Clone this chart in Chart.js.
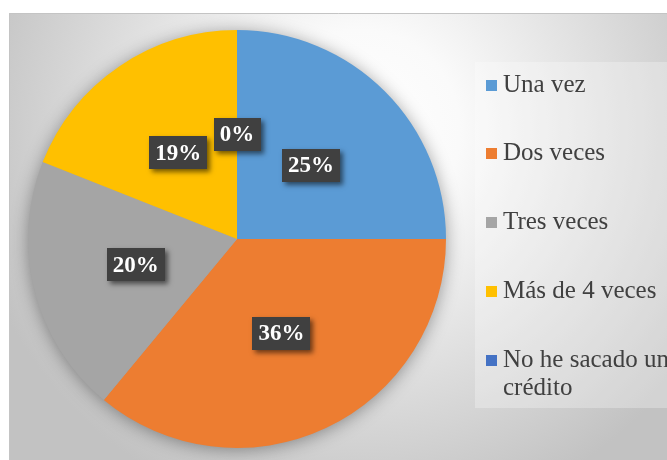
<!DOCTYPE html>
<html>
<head>
<meta charset="utf-8">
<script src="https://cdn.jsdelivr.net/npm/chart.js@4/dist/chart.umd.min.js"></script>
<style>
  html, body { margin: 0; padding: 0; background: #ffffff; }
  canvas { display: block; }
</style>
</head>
<body>
<canvas id="chart" width="667" height="460"></canvas>
<script>
// Number of credits taken
const categories = ['Una vez', 'Dos veces', 'Tres veces', 'Más de 4 veces', 'No he sacado un crédito'];
const percentages = [25, 36, 20, 19, 0];
const sliceColors = ['#5B9BD5', '#ED7D31', '#A5A5A5', '#FFC000', '#4472C4'];
// Legend entries split into display lines
const legendLines = [['Una vez'], ['Dos veces'], ['Tres veces'], ['Más de 4 veces'], ['No he sacado un', 'crédito']];

const serif = '"Liberation Serif", "Times New Roman", serif';

// Framed panel with a soft radial light behind the chart
const panelBackground = {
  id: 'panelBackground',
  beforeDraw(chart) {
    const ctx = chart.ctx;
    const W = chart.width, H = chart.height;
    ctx.save();
    ctx.fillStyle = '#ffffff';
    ctx.fillRect(0, 0, W, H);
    const g = ctx.createRadialGradient(360, 130, 0, 360, 130, 400);
    g.addColorStop(0, '#ffffff');
    g.addColorStop(0.25, '#fafafa');
    g.addColorStop(0.6, '#e0e0e0');
    g.addColorStop(1, '#c2c2c2');
    ctx.fillStyle = g;
    ctx.fillRect(9, 13, W - 9, H - 13);
    ctx.strokeStyle = '#c4c4c4';
    ctx.lineWidth = 1;
    ctx.beginPath();
    ctx.moveTo(9.5, H);
    ctx.lineTo(9.5, 13.5);
    ctx.lineTo(W, 13.5);
    ctx.stroke();
    // lighter legend panel
    ctx.fillStyle = 'rgba(255,255,255,0.28)';
    ctx.fillRect(475, 62, W - 475, 346);
    ctx.restore();
  },
  beforeDatasetsDraw(chart) {
    // soft shadow under the pie
    const arc = chart.getDatasetMeta(0).data[0];
    if (!arc) return;
    const ctx = chart.ctx;
    ctx.save();
    ctx.shadowColor = 'rgba(0,0,0,0.4)';
    ctx.shadowBlur = 18;
    ctx.shadowOffsetX = 0;
    ctx.shadowOffsetY = 2;
    ctx.fillStyle = '#a0a0a0';
    ctx.beginPath();
    ctx.arc(arc.x, arc.y, arc.outerRadius - 1, 0, Math.PI * 2);
    ctx.fill();
    ctx.restore();
  }
};

// Dark boxed percentage labels at each slice's centroid
const boxedLabels = {
  id: 'boxedLabels',
  afterDatasetsDraw(chart) {
    const ctx = chart.ctx;
    const meta = chart.getDatasetMeta(0);
    const values = chart.data.datasets[0].data;
    ctx.save();
    ctx.font = 'bold 23px ' + serif;
    ctx.textAlign = 'center';
    ctx.textBaseline = 'middle';
    meta.data.forEach((arc, i) => {
      const pos = arc.tooltipPosition();
      const text = values[i] + '%';
      const w = ctx.measureText(text).width + 12;
      const h = 33;
      ctx.save();
      ctx.shadowColor = 'rgba(0,0,0,0.55)';
      ctx.shadowBlur = 5;
      ctx.shadowOffsetX = 3;
      ctx.shadowOffsetY = 3;
      ctx.fillStyle = '#404040';
      ctx.fillRect(Math.round(pos.x - w / 2), Math.round(pos.y - h / 2), Math.round(w), h);
      ctx.restore();
      ctx.fillStyle = '#ffffff';
      ctx.fillText(text, pos.x, pos.y + 1);
    });
    ctx.restore();
  }
};

// Right-hand legend with square swatches
const sideLegend = {
  id: 'sideLegend',
  afterDraw(chart) {
    const ctx = chart.ctx;
    const colors = chart.data.datasets[0].backgroundColor;
    const rowCenters = [85, 153, 222, 291, 360];
    ctx.save();
    ctx.font = '25px ' + serif;
    ctx.textAlign = 'left';
    ctx.textBaseline = 'middle';
    chart.data.labels.forEach((label, i) => {
      const y = rowCenters[i];
      ctx.fillStyle = colors[i];
      ctx.fillRect(486, y - 5, 11, 11);
      ctx.fillStyle = '#404040';
      legendLines[i].forEach((line, j) => {
        ctx.fillText(line, 503, y + j * 28);
      });
    });
    ctx.restore();
  }
};

new Chart(document.getElementById('chart'), {
  type: 'pie',
  data: {
    labels: categories,
    datasets: [{
      data: percentages,
      backgroundColor: sliceColors,
      borderWidth: 0,
      hoverOffset: 0,
      offset: 0
    }]
  },
  options: {
    responsive: false,
    animation: false,
    layout: { padding: { left: 28, right: 221, top: 30, bottom: 12 } },
    plugins: {
      legend: { display: false },
      tooltip: { enabled: false }
    }
  },
  plugins: [panelBackground, boxedLabels, sideLegend]
});
</script>
</body>
</html>
